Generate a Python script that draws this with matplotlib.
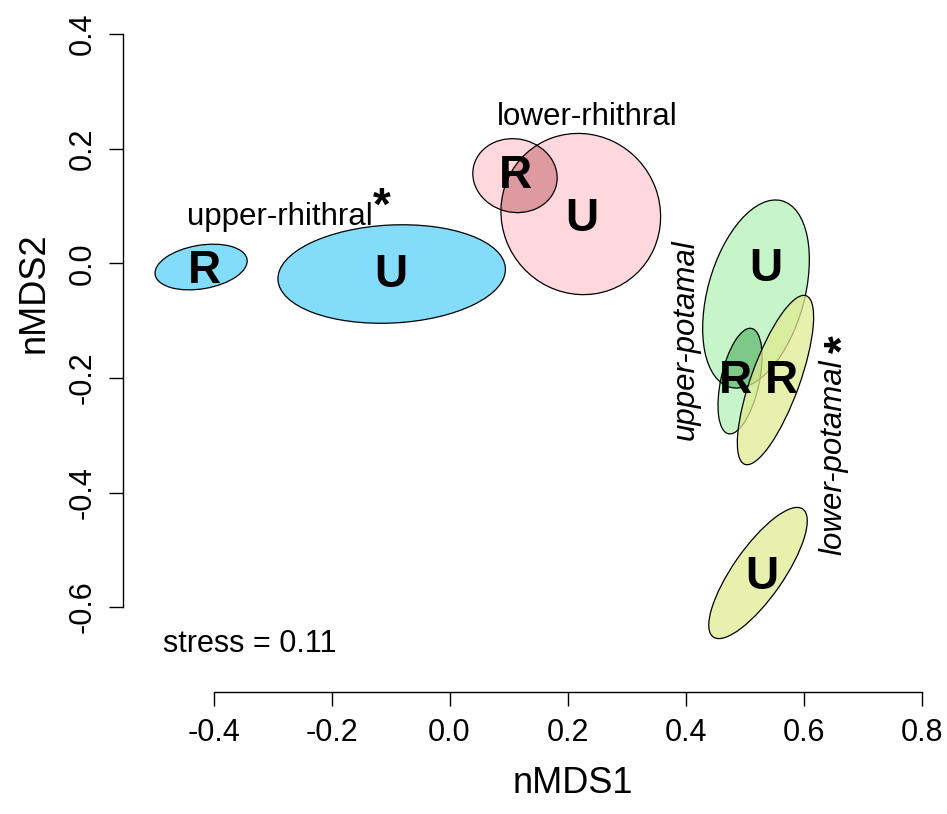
import matplotlib.pyplot as plt
from matplotlib.patches import Ellipse

plt.rcParams['font.family'] = ['Liberation Sans', 'DejaVu Sans']

# nMDS ordination: one ellipse per river zone x site type (R / U)
zone = ['upper-rhithral', 'upper-rhithral', 'lower-rhithral', 'lower-rhithral',
        'upper-potamal', 'upper-potamal', 'lower-potamal', 'lower-potamal']
site = ['R', 'U', 'R', 'U', 'U', 'R', 'R', 'U']
cx = [-0.421, -0.098, 0.111, 0.2225, 0.5195, 0.4924, 0.5525, 0.5229]
cy = [-0.0065, -0.0187, 0.153, 0.086, -0.0536, -0.2056, -0.2037, -0.5405]
ell_w = [0.158, 0.386, 0.144, 0.283, 0.337, 0.188, 0.312, 0.27]
ell_h = [0.076, 0.171, 0.128, 0.269, 0.164, 0.065, 0.082, 0.086]
ell_ang = [10, 3, -15, 110, 75, 78, 70.6, 56]

# where the R / U letters sit
lab_x = [-0.4161, -0.0992, 0.1110, 0.2246, 0.5364, 0.4839, 0.5619, 0.5297]
lab_y = [-0.0344, -0.0422, 0.1308, 0.0564, -0.0309, -0.2270, -0.2270, -0.5684]

xticks = [-0.4, -0.2, 0.0, 0.2, 0.4, 0.6, 0.8]
yticks = [-0.6, -0.4, -0.2, 0.0, 0.2, 0.4]
stress = 0.11

fill = {'upper-rhithral': '#82DCFA', 'lower-rhithral': '#FFD8DE',
        'upper-potamal': '#C6F5C9', 'lower-potamal': '#E0EB90'}
overlap = {'lower-rhithral': '#DF9AA1', 'upper-potamal': '#7DC987'}

W, H = 947, 814
fig = plt.figure(figsize=(W / 100, H / 100), dpi=100)

# axes placed in pixels so the plot region matches the original layout
PX_X, PX_Y = 590.0, 573.0
X0, Y0 = 449.5, 263.3
xlim = (-0.553, 0.956)
ylim = (-0.748, 0.652)
left = X0 + xlim[0] * PX_X
right = X0 + xlim[1] * PX_X
top = Y0 - ylim[1] * PX_Y
bottom = Y0 - ylim[0] * PX_Y
ax = fig.add_axes([left / W, 1 - bottom / H, (right - left) / W, (bottom - top) / H])
ax.set_xlim(xlim)
ax.set_ylim(ylim)


def make_ell(i, **kw):
    return Ellipse((cx[i], cy[i]), ell_w[i], ell_h[i], angle=ell_ang[i], **kw)


patches = {}
for i in range(len(zone)):
    if zone[i] == 'lower-potamal':
        continue
    p = make_ell(i, facecolor=fill[zone[i]], edgecolor='none', zorder=1)
    ax.add_patch(p)
    patches[(zone[i], site[i])] = i

# darker fill where the R and U ellipses of a zone overlap
for z, col in overlap.items():
    iu = patches[(z, 'U')]
    ir = patches[(z, 'R')]
    clip = make_ell(iu, facecolor='none', edgecolor='none')
    ax.add_patch(clip)
    dark = make_ell(ir, facecolor=col, edgecolor='none', zorder=2)
    ax.add_patch(dark)
    dark.set_clip_path(clip)

for i in range(len(zone)):
    if zone[i] == 'lower-potamal':
        continue
    ax.add_patch(make_ell(i, facecolor='none', edgecolor='black', lw=0.9, zorder=3))

# lower-potamal drawn semi-transparent on top
for i in range(len(zone)):
    if zone[i] != 'lower-potamal':
        continue
    ax.add_patch(make_ell(i, facecolor=fill[zone[i]], edgecolor='none', alpha=0.75, zorder=4))
    ax.add_patch(make_ell(i, facecolor='none', edgecolor='black', lw=0.9, zorder=5))

for i in range(len(site)):
    ax.text(lab_x[i], lab_y[i], site[i], fontsize=33, fontweight='bold',
            ha='center', va='baseline', zorder=6)

ax.text(-0.2878, 0.0668, 'upper-rhithral', fontsize=22.5, ha='center', va='baseline')
ax.text(0.2339, 0.2413, 'lower-rhithral', fontsize=22.5, ha='center', va='baseline')
ax.text(0.4144, -0.1339, 'upper-potamal', fontsize=22.5, style='italic', rotation=90,
        rotation_mode='anchor', ha='center', va='baseline', zorder=6)
ax.text(0.6636, -0.3380, 'lower-potamal', fontsize=22.5, style='italic', rotation=90,
        rotation_mode='anchor', ha='center', va='baseline', zorder=6)
ax.text(-0.1149, 0.0761, '*', fontsize=33, fontweight='bold', ha='center', va='baseline')
ax.text(0.6903, -0.1408, '*', fontsize=33, fontweight='bold', rotation=90,
        rotation_mode='anchor', ha='center', va='baseline')
ax.text(-0.4851, -0.6778, 'stress = %.2f' % stress, fontsize=22, ha='left', va='baseline')

# R-style detached axes
for s in ['top', 'right']:
    ax.spines[s].set_visible(False)
ax.spines['left'].set_bounds(yticks[0], yticks[-1])
ax.spines['bottom'].set_bounds(xticks[0], xticks[-1])
for s in ['left', 'bottom']:
    ax.spines[s].set_linewidth(1.0)
ax.set_xticks(xticks)
ax.set_xticklabels(['%.1f' % v for v in xticks])
ax.set_yticks(yticks)
ax.set_yticklabels(['%.1f' % v for v in yticks])
ax.tick_params(length=10, width=1.0, labelsize=22, pad=8.6)
for lab in ax.get_yticklabels():
    lab.set_rotation(90)
    lab.set_va('center')

fig.text(573 / W, 1 - 793 / H, 'nMDS1', fontsize=26, ha='center', va='baseline')
fig.text(43.5 / W, 1 - 293 / H, 'nMDS2', fontsize=26, rotation=90,
         rotation_mode='anchor', ha='center', va='baseline')

fig.savefig('out.png', dpi=100)
